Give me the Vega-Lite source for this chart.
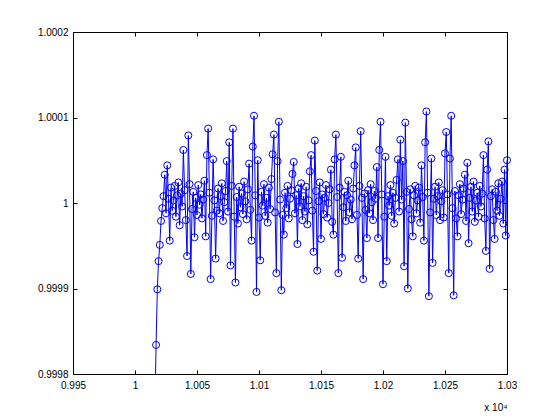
{
"$schema":"https://vega.github.io/schema/vega-lite/v6.json",
"width":434,"height":342,
"autosize":{"type":"none"},
"padding":{"left":73,"top":32,"right":53,"bottom":46},
"background":"white",
"config":{"view":{"stroke":null},"axis":{"domainColor":"black","tickColor":"black","labelColor":"black","labelFont":"Liberation Sans","labelFontSize":10,"titleFont":"Liberation Sans","titleFontSize":10,"titleFontWeight":"normal","titleColor":"black","tickSize":-4,"grid":false,"domainWidth":1,"tickWidth":1,"labelFlush":false,"labelOverlap":false,"labelBound":false}},
"data":{"values":[
{"x":10016,"y":0.99975},{"x":10017,"y":0.999834},{"x":10018,"y":0.999899},{"x":10019,"y":0.999932},{"x":10020,"y":0.999951},{"x":10021,"y":0.999979},{"x":10022,"y":0.999994},{"x":10023,"y":1.000008},{"x":10024,"y":1.000033},{"x":10025,"y":0.999988},
{"x":10026,"y":1.000044},{"x":10027,"y":1.000005},{"x":10028,"y":0.999956},{"x":10029,"y":1.000018},{"x":10030,"y":0.999991},{"x":10031,"y":1.000003},{"x":10032,"y":1.00002},{"x":10033,"y":0.999984},{"x":10034,"y":1.000009},{"x":10035,"y":1.000024},
{"x":10036,"y":0.999974},{"x":10037,"y":1.000011},{"x":10038,"y":0.999996},{"x":10039,"y":1.000062},{"x":10040,"y":1.000015},{"x":10041,"y":0.99998},{"x":10042,"y":0.999938},{"x":10043,"y":1.000079},{"x":10044,"y":1.000022},{"x":10045,"y":0.999917},
{"x":10046,"y":0.999993},{"x":10047,"y":1.000013},{"x":10048,"y":0.99996},{"x":10049,"y":1.000006},{"x":10050,"y":0.999986},{"x":10051,"y":1.000021},{"x":10052,"y":0.999998},{"x":10053,"y":1.00001},{"x":10054,"y":0.999982},{"x":10055,"y":1.000004},
{"x":10056,"y":1.000026},{"x":10057,"y":0.999961},{"x":10058,"y":1.000056},{"x":10059,"y":1.000087},{"x":10060,"y":1.000012},{"x":10061,"y":0.999911},{"x":10062,"y":0.999985},{"x":10063,"y":1.000051},{"x":10064,"y":1.000003},{"x":10065,"y":0.999935},
{"x":10066,"y":0.999991},{"x":10067,"y":1.000017},{"x":10068,"y":0.999988},{"x":10069,"y":1.000008},{"x":10070,"y":1.000023},{"x":10071,"y":0.999979},{"x":10072,"y":1.000001},{"x":10073,"y":1.000014},{"x":10074,"y":1.000049},{"x":10075,"y":0.99999},
{"x":10076,"y":1.000071},{"x":10077,"y":0.999927},{"x":10078,"y":1.00002},{"x":10079,"y":1.000087},{"x":10080,"y":0.999984},{"x":10081,"y":0.999907},{"x":10082,"y":1.000007},{"x":10083,"y":0.999976},{"x":10084,"y":1.000019},{"x":10085,"y":0.999995},
{"x":10086,"y":1.000011},{"x":10087,"y":0.999987},{"x":10088,"y":1.000025},{"x":10089,"y":1.000002},{"x":10090,"y":0.999981},{"x":10091,"y":1.000016},{"x":10092,"y":1.000046},{"x":10093,"y":0.999992},{"x":10094,"y":0.999956},{"x":10095,"y":1.000066},
{"x":10096,"y":1.000102},{"x":10097,"y":1.000009},{"x":10098,"y":0.999896},{"x":10099,"y":1.00005},{"x":10100,"y":0.999983},{"x":10101,"y":0.999933},{"x":10102,"y":1.000013},{"x":10103,"y":0.999997},{"x":10104,"y":1.000022},{"x":10105,"y":0.999985},
{"x":10106,"y":1.000006},{"x":10107,"y":0.999977},{"x":10108,"y":1.000018},{"x":10109,"y":0.999993},{"x":10110,"y":1.000028},{"x":10111,"y":1.000057},{"x":10112,"y":1.00008},{"x":10113,"y":0.999989},{"x":10114,"y":0.999918},{"x":10115,"y":1.000049},
{"x":10116,"y":1.000095},{"x":10117,"y":1.000004},{"x":10118,"y":0.999898},{"x":10119,"y":0.999986},{"x":10120,"y":0.999963},{"x":10121,"y":1.000012},{"x":10122,"y":0.999994},{"x":10123,"y":1.00002},{"x":10124,"y":0.999982},{"x":10125,"y":1.000005},
{"x":10126,"y":1.000015},{"x":10127,"y":1.000034},{"x":10128,"y":1.000048},{"x":10129,"y":0.999988},{"x":10130,"y":1.000009},{"x":10131,"y":0.999952},{"x":10132,"y":1.000017},{"x":10133,"y":0.999996},{"x":10134,"y":1.000023},{"x":10135,"y":0.99998},
{"x":10136,"y":1.000008},{"x":10137,"y":0.99999},{"x":10138,"y":1.000019},{"x":10139,"y":0.999975},{"x":10140,"y":1.000003},{"x":10141,"y":1.000037},{"x":10142,"y":1.000056},{"x":10143,"y":0.999991},{"x":10144,"y":0.999943},{"x":10145,"y":1.000073},
{"x":10146,"y":1.000014},{"x":10147,"y":0.999921},{"x":10148,"y":1.000002},{"x":10149,"y":1.000024},{"x":10150,"y":0.999958},{"x":10151,"y":1.00001},{"x":10152,"y":0.999987},{"x":10153,"y":1.000006},{"x":10154,"y":1.000021},{"x":10155,"y":0.999983},
{"x":10156,"y":1.0},{"x":10157,"y":1.000016},{"x":10158,"y":1.000039},{"x":10159,"y":0.999978},{"x":10160,"y":0.999963},{"x":10161,"y":1.000051},{"x":10162,"y":1.00008},{"x":10163,"y":1.000007},{"x":10164,"y":0.999918},{"x":10165,"y":1.000018},
{"x":10166,"y":1.000054},{"x":10167,"y":0.999936},{"x":10168,"y":0.999995},{"x":10169,"y":1.000013},{"x":10170,"y":0.999979},{"x":10171,"y":1.000009},{"x":10172,"y":1.000026},{"x":10173,"y":0.999989},{"x":10174,"y":1.000004},{"x":10175,"y":0.999981},
{"x":10176,"y":1.000017},{"x":10177,"y":1.000044},{"x":10178,"y":1.000065},{"x":10179,"y":0.999986},{"x":10180,"y":0.999935},{"x":10181,"y":1.00002},{"x":10182,"y":1.000084},{"x":10183,"y":1.000006},{"x":10184,"y":0.999911},{"x":10185,"y":1.000011},
{"x":10186,"y":0.999992},{"x":10187,"y":0.999959},{"x":10188,"y":1.000015},{"x":10189,"y":0.999988},{"x":10190,"y":1.000022},{"x":10191,"y":1.000001},{"x":10192,"y":0.99998},{"x":10193,"y":1.000014},{"x":10194,"y":1.000005},{"x":10195,"y":1.000042},
{"x":10196,"y":0.999959},{"x":10197,"y":1.000062},{"x":10198,"y":1.000095},{"x":10199,"y":1.00001},{"x":10200,"y":0.999905},{"x":10201,"y":0.999984},{"x":10202,"y":1.000054},{"x":10203,"y":0.999932},{"x":10204,"y":1.000008},{"x":10205,"y":0.999997},
{"x":10206,"y":1.000021},{"x":10207,"y":0.999985},{"x":10208,"y":1.000012},{"x":10209,"y":0.999976},{"x":10210,"y":1.000006},{"x":10211,"y":1.000027},{"x":10212,"y":1.000051},{"x":10213,"y":0.99999},{"x":10214,"y":1.000074},{"x":10215,"y":1.000004},
{"x":10216,"y":1.000049},{"x":10217,"y":0.999926},{"x":10218,"y":1.000094},{"x":10219,"y":1.000013},{"x":10220,"y":0.9999},{"x":10221,"y":0.999993},{"x":10222,"y":1.000016},{"x":10223,"y":0.999981},{"x":10224,"y":0.999961},{"x":10225,"y":1.000009},
{"x":10226,"y":1.00002},{"x":10227,"y":0.999988},{"x":10228,"y":1.000003},{"x":10229,"y":1.000018},{"x":10230,"y":0.999977},{"x":10231,"y":1.000044},{"x":10232,"y":1.000007},{"x":10233,"y":0.999956},{"x":10234,"y":1.000071},{"x":10235,"y":1.000107},
{"x":10236,"y":1.000012},{"x":10237,"y":0.999891},{"x":10238,"y":0.999989},{"x":10239,"y":1.000052},{"x":10240,"y":0.99993},{"x":10241,"y":1.000005},{"x":10242,"y":1.000019},{"x":10243,"y":0.999986},{"x":10244,"y":1.000008},{"x":10245,"y":1.000024},
{"x":10246,"y":0.99998},{"x":10247,"y":1.000002},{"x":10248,"y":1.000015},{"x":10249,"y":0.999983},{"x":10250,"y":1.000058},{"x":10251,"y":1.000083},{"x":10252,"y":1.00001},{"x":10253,"y":0.999918},{"x":10254,"y":1.000052},{"x":10255,"y":1.000102},
{"x":10256,"y":0.999994},{"x":10257,"y":0.999892},{"x":10258,"y":1.000014},{"x":10259,"y":0.999982},{"x":10260,"y":0.999961},{"x":10261,"y":1.000009},{"x":10262,"y":1.000022},{"x":10263,"y":0.999987},{"x":10264,"y":1.000004},{"x":10265,"y":1.000017},
{"x":10266,"y":1.000033},{"x":10267,"y":0.999979},{"x":10268,"y":1.000047},{"x":10269,"y":0.999953},{"x":10270,"y":1.000006},{"x":10271,"y":1.000019},{"x":10272,"y":0.99999},{"x":10273,"y":1.000025},{"x":10274,"y":0.999978},{"x":10275,"y":1.000003},
{"x":10276,"y":1.000012},{"x":10277,"y":0.999984},{"x":10278,"y":1.00002},{"x":10279,"y":0.999996},{"x":10280,"y":1.000011},{"x":10281,"y":1.000056},{"x":10282,"y":0.999982},{"x":10283,"y":0.999944},{"x":10284,"y":1.000039},{"x":10285,"y":1.000072},
{"x":10286,"y":0.999923},{"x":10287,"y":1.000008},{"x":10288,"y":1.000016},{"x":10289,"y":0.99998},{"x":10290,"y":0.999958},{"x":10291,"y":1.000013},{"x":10292,"y":0.999991},{"x":10293,"y":1.000023},{"x":10294,"y":0.999985},{"x":10295,"y":1.000005},
{"x":10296,"y":1.000025},{"x":10297,"y":0.999976},{"x":10298,"y":1.000039},{"x":10299,"y":0.999962},{"x":10300,"y":1.00005}
]},
"layer":[
{"mark":{"type":"line","color":"#0000ff","strokeWidth":1,"clip":true},
 "encoding":{
  "x":{"field":"x","type":"quantitative","scale":{"domain":[9950,10300],"nice":false,"zero":false},
   "axis":{"orient":"bottom","values":[9950,10000,10050,10100,10150,10200,10250,10300],"labelExpr":"format(datum.value/10000, '.3~f')","labelPadding":10,"title":"x 10⁴","titleAnchor":"end","titleAlign":"right","titlePadding":12}},
  "y":{"field":"y","type":"quantitative","scale":{"domain":[0.9998,1.0002],"nice":false,"zero":false},
   "axis":{"orient":"left","values":[0.9998,0.9999,1,1.0001,1.0002],"labelExpr":"format(datum.value, '.4~f')","labelPadding":9,"title":null}}}},
{"transform":[{"filter":"datum.y >= 0.9998"}],
 "mark":{"type":"point","shape":"circle","size":50,"filled":false,"stroke":"#0000ff","strokeWidth":1,"opacity":1},
 "encoding":{
  "x":{"field":"x","type":"quantitative","scale":{"domain":[9950,10300],"nice":false,"zero":false},
   "axis":{"orient":"top","values":[9950,10000,10050,10100,10150,10200,10250,10300],"labels":false,"title":null}},
  "y":{"field":"y","type":"quantitative","scale":{"domain":[0.9998,1.0002],"nice":false,"zero":false},
   "axis":{"orient":"right","values":[0.9998,0.9999,1,1.0001,1.0002],"labels":false,"title":null}}}}
],
"resolve":{"axis":{"x":"independent","y":"independent"}}
}
